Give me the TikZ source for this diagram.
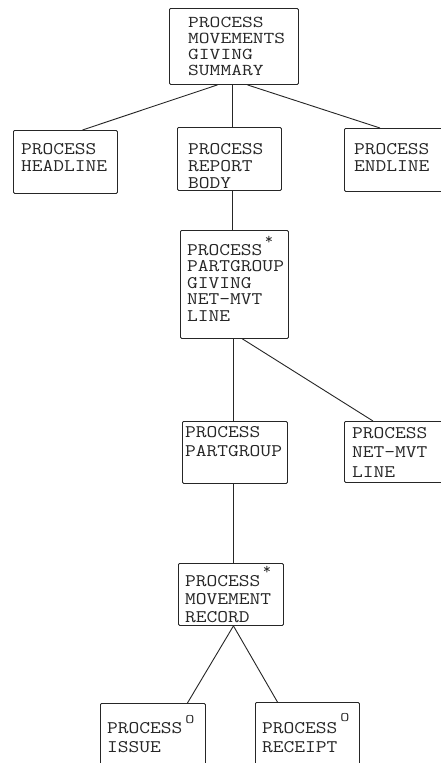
\documentclass[tikz,border=0pt]{standalone}
\usepackage{graphicx}
% typewriter text block: font size, horizontal stretch, line spacing, lines
\newcommand\twtextsz[4]{\scalebox{#2}[1]{\parbox[t]{80pt}{\fontsize{#1}{#3}\selectfont\ttfamily #4}}}
\newcommand\twtext[2]{\twtextsz{17.7}{1.18}{#1}{#2}}
\begin{document}
\begin{tikzpicture}[x=1pt,y=-1pt,
  procbox/.style={draw=black!85, line width=0.9pt, rounded corners=1.2pt,
    anchor=north west, inner sep=0pt},
  boxtxt/.style={anchor=base west, inner sep=0pt, text=black!85},
  sign/.style={inner sep=0pt, text=black!85},
  link/.style={draw=black!85, line width=0.9pt}]
\fill[white] (0,0) rectangle (441,763);
\clip (0,0) rectangle (441,763);

% boxes
\node[procbox, minimum width=129pt, minimum height=76pt] (top) at (169,8) {};
\node[procbox, minimum width=104pt, minimum height=63pt] (head) at (13,130) {};
\node[procbox, minimum width=104pt, minimum height=63pt] (body) at (177,127) {};
\node[procbox, minimum width=120pt, minimum height=63pt] (end) at (344,128) {};
\node[procbox, minimum width=108pt, minimum height=108pt] (pgg) at (180,230) {};
\node[procbox, minimum width=105pt, minimum height=62pt] (pg) at (182,421) {};
\node[procbox, minimum width=120pt, minimum height=61pt] (net) at (344,421) {};
\node[procbox, minimum width=105pt, minimum height=62pt] (mov) at (178,563) {};
\node[procbox, minimum width=105pt, minimum height=90pt] (iss) at (100,703) {};
\node[procbox, minimum width=104pt, minimum height=90pt] (rec) at (255,702) {};

% texts
\node[boxtxt] (top-t) at (188,27) {\twtextsz{16.6}{1.26}{16pt}{PROCESS\\MOVEMENTS\\GIVING\\SUMMARY}};
\node[boxtxt] (head-t) at (21,154) {\twtext{17pt}{PROCESS\\HEADLINE}};
\node[boxtxt] (body-t) at (188,154) {\twtext{17pt}{PROCESS\\REPORT\\BODY}};
\node[boxtxt] (end-t) at (354,154) {\twtext{17pt}{PROCESS\\ENDLINE}};
\node[boxtxt] (pgg-t) at (187,255) {\twtext{16.5pt}{PROCESS\\PARTGROUP\\GIVING\\NET-MVT\\LINE}};
\node[boxtxt] (pg-t) at (185,437) {\twtext{19pt}{PROCESS\\PARTGROUP}};
\node[boxtxt] (net-t) at (352,438) {\twtext{19.5pt}{PROCESS\\NET-MVT\\LINE}};
\node[boxtxt] (mov-t) at (185,586) {\twtext{18pt}{PROCESS\\MOVEMENT\\RECORD}};
\node[boxtxt] (iss-t) at (107,733) {\twtext{19pt}{PROCESS\\ISSUE}};
\node[boxtxt] (rec-t) at (262,733) {\twtext{19pt}{PROCESS\\RECEIPT}};

% iteration and selection signs
\node[sign, font=\fontsize{16}{16}\selectfont\ttfamily] (pgg-s) at (269,240) {*};
\node[sign, font=\fontsize{16}{16}\selectfont\ttfamily] (mov-s) at (267,570) {*};
\node[sign, font=\fontsize{13}{13}\selectfont\ttfamily] (iss-s) at (190,720) {\scalebox{1.35}[1]{O}};
\node[sign, font=\fontsize{13}{13}\selectfont\ttfamily] (rec-s) at (345,718) {\scalebox{1.35}[1]{O}};

% connectors
\draw[link] ([xshift=-16.5pt]top.south) -- ([xshift=17pt]head.north);
\draw[link] ([xshift=-1.5pt]top.south) -- ([xshift=3pt]body.north);
\draw[link] ([xshift=13.5pt]top.south) -- ([xshift=36pt]end.north west);
\draw[link] ([xshift=3pt]body.south) -- ([xshift=-2pt]pgg.north);
\draw[link] ([xshift=-1pt]pgg.south) -- ([xshift=-1.5pt]pg.north);
\draw[link] ([xshift=8pt]pgg.south) -- ([xshift=29pt]net.north west);
\draw[link] ([xshift=-1.5pt]pg.south) -- ([xshift=2.5pt]mov.north);
\draw[link] ([xshift=2.5pt]mov.south) -- ([xshift=34.5pt]iss.north);
\draw[link] ([xshift=2.5pt]mov.south) -- ([xshift=-30pt]rec.north);
\end{tikzpicture}
\end{document}
